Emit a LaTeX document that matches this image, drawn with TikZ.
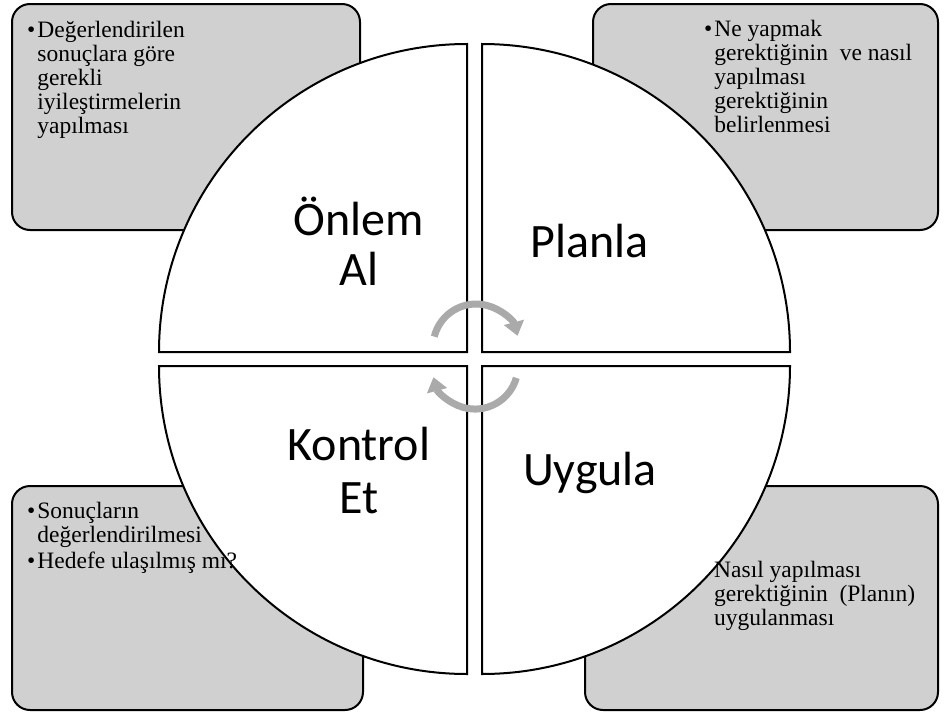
\documentclass[tikz,border=0pt]{standalone}
\usepackage{fontspec}
\setmainfont{Liberation Serif}
\newfontfamily\labelfont{Carlito}
\usetikzlibrary{arrows.meta}
\definecolor{boxgray}{RGB}{208,208,208}
\definecolor{arrowgray}{RGB}{170,170,170}
\begin{document}
\begin{tikzpicture}[x=1pt,y=1pt,yscale=-1,
  infobox/.style={draw=black, line width=2pt, fill=boxgray, rounded corners=18pt},
  quad/.style={draw=black, line width=2pt, fill=white, line join=miter},
  boxtext/.style={anchor=base west, inner sep=0pt, font=\fontsize{23.5}{24}\selectfont},
  quadlabel/.style={anchor=base, inner sep=0pt, font=\labelfont\fontsize{48}{50}\selectfont},
  cyclearrow/.style={draw=arrowgray, line width=7pt, -{Triangle[length=14pt,width=20pt]}}
]
\useasboundingbox (0,0) rectangle (945,715);
\fill[white] (0,0) rectangle (945,715);

% corner boxes
\draw[infobox] (12,4) rectangle (360,230);
\draw[infobox] (593,4) rectangle (938,230);
\draw[infobox] (12,486) rectangle (363,710);
\draw[infobox] (585,486) rectangle (938,710);

% quadrants
\draw[quad] (467,352) -- (159,352) arc[start angle=180, end angle=270, radius=308] -- cycle;
\draw[quad] (482,352) -- (482,44) arc[start angle=270, end angle=360, radius=308] -- cycle;
\draw[quad] (482,366) -- (790,366) arc[start angle=0, end angle=90, radius=308] -- cycle;
\draw[quad] (467,366) -- (467,674) arc[start angle=90, end angle=180, radius=308] -- cycle;

% box texts
\node[boxtext] (txtTL) at (27,37) {\begin{tabular}[t]{@{}l@{\hspace{2pt}}l@{}}•&Değerlendirilen\\&sonuçlara göre\\&gerekli\\&iyileştirmelerin\\&yapılması\end{tabular}};
\node[boxtext] (txtTR) at (704,36) {\begin{tabular}[t]{@{}l@{\hspace{2pt}}l@{}}•&Ne yapmak\\&gerektiğinin\ \ ve nasıl\\&yapılması\\&gerektiğinin\\&belirlenmesi\end{tabular}};
\node[boxtext] (txtBL) at (27,518) {\begin{tabular}[t]{@{}l@{\hspace{2pt}}l@{}}•&Sonuçların\\&değerlendirilmesi\\[2pt]•&Hedefe ulaşılmış mı?\end{tabular}};
\node[boxtext] (txtBR) at (714,577) {\begin{tabular}[t]{@{}l@{}}Nasıl yapılması\\gerektiğinin\ \ (Planın)\\uygulanması\end{tabular}};

% quadrant labels
\node[quadlabel] (onlem) at (359,235) {\begin{tabular}[t]{@{}c@{}}Önlem\\Al\end{tabular}};
\node[quadlabel] (planla) at (590,257) {Planla};
\node[quadlabel] (kontrol) at (359,460) {\begin{tabular}[t]{@{}c@{}}Kontrol\\[3pt]Et\end{tabular}};
\node[quadlabel] (uygula) at (590,485) {Uygula};

% cycle arrows
\coordinate (topstart) at (434.3,336.6);
\coordinate (botstart) at (516.3,377.9);
\draw[cyclearrow] (topstart) arc[start angle=194, end angle=345, radius=43];
\draw[cyclearrow] (botstart) arc[start angle=16, end angle=165, radius=43];
\end{tikzpicture}
\end{document}
